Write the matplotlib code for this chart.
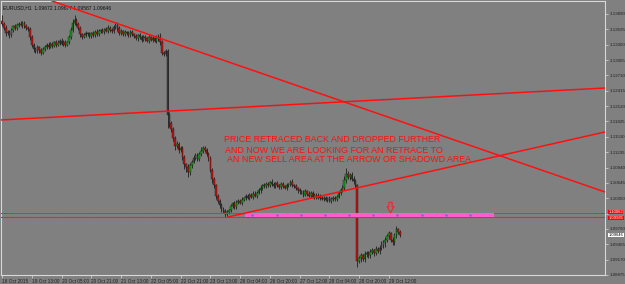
import matplotlib
matplotlib.use("Agg")
import matplotlib.pyplot as plt
import matplotlib.transforms as mtransforms
from matplotlib.path import Path
import numpy as np

# ---------------- data ----------------
closes = [
    1.1370, 1.1362, 1.1352, 1.1355, 1.1348,
    1.1358, 1.1365, 1.1362, 1.1368,
    1.1370, 1.1368, 1.1372, 1.1366, 1.1362, 1.1360,
    1.1345, 1.1330,
    1.1322, 1.1318, 1.1325, 1.1320, 1.1315, 1.1322,
    1.1325, 1.1330, 1.1326, 1.1332, 1.1328, 1.1335, 1.1330, 1.1334, 1.1338, 1.1332, 1.1336, 1.1330, 1.1335,
    1.1345, 1.1358,
    1.1372, 1.1378, 1.1370, 1.1362,
    1.1350, 1.1345, 1.1348, 1.1352,
    1.1350, 1.1346, 1.1352, 1.1348, 1.1355, 1.1350, 1.1356,
    1.1358, 1.1355, 1.1360, 1.1357, 1.1362, 1.1358, 1.1356, 1.1364,
    1.1368, 1.1362,
    1.1352, 1.1356, 1.1350, 1.1354, 1.1352, 1.1348, 1.1355, 1.1350,
    1.1346, 1.1342, 1.1348, 1.1344, 1.1340, 1.1345, 1.1342, 1.1338, 1.1344, 1.1340, 1.1342, 1.1338, 1.1343,
    1.1345, 1.1335,
    1.1315, 1.1312, 1.1318,
    1.1195, 1.1180, 1.1168,
    1.1150, 1.1135, 1.1140, 1.1128, 1.1132,
    1.1115, 1.1100, 1.1095, 1.1085, 1.1098, 1.1105,
    1.1112, 1.1118, 1.1110, 1.1120,
    1.1125, 1.1132, 1.1128, 1.1120, 1.1112,
    1.1090, 1.1072, 1.1060,
    1.1040, 1.1030, 1.1022, 1.1015, 1.1010,
    1.1005, 1.1008, 1.1012,
    1.1020, 1.1025, 1.1018, 1.1028, 1.1030, 1.1026, 1.1032,
    1.1035, 1.1040, 1.1036, 1.1042, 1.1038, 1.1044, 1.1040, 1.1046, 1.1050,
    1.1055, 1.1060, 1.1058, 1.1063, 1.1060, 1.1066, 1.1062, 1.1058, 1.1064, 1.1060, 1.1056, 1.1062, 1.1058, 1.1055, 1.1060,
    1.1062, 1.1066, 1.1060, 1.1058, 1.1054, 1.1050, 1.1048,
    1.1046, 1.1042, 1.1048, 1.1044, 1.1040, 1.1045, 1.1038, 1.1042, 1.1036, 1.1040, 1.1035,
    1.1034, 1.1036, 1.1032, 1.1035, 1.1030, 1.1033, 1.1036, 1.1034, 1.1038,
    1.1045, 1.1050, 1.1055,
    1.1070, 1.1082, 1.1075, 1.1080,
    1.1072, 1.1068, 1.1060,
    1.0915,
    1.0920, 1.0925, 1.0918, 1.0928, 1.0930, 1.0925, 1.0932,
    1.0935, 1.0930, 1.0938, 1.0934, 1.0940,
    1.0945, 1.0950, 1.0955,
    1.0962, 1.0968,
    1.0955, 1.0950,
    1.0965, 1.0975, 1.0970, 1.0965,
]
first_open = 1.1375

# upper / lower wick lengths in pips
wick_up = [
    12, 4, 5, 3, 4, 5, 3, 4, 3, 4,
    5, 3, 4, 3, 3, 4, 3, 4, 3, 5,
    3, 4, 3, 4, 3, 5, 3, 4, 3, 4,
    5, 3, 4, 3, 4, 3, 4, 6, 8, 9,
    4, 3, 4, 3, 4, 5, 3, 4, 3, 4,
    3, 5, 4, 3, 4, 3, 4, 5, 3, 4,
    3, 4, 5, 3, 4, 3, 4, 3, 4, 3,
    4, 3, 4, 3, 4, 5, 3, 4, 3, 4,
    3, 4, 3, 5, 6, 8, 4, 3, 4, 3,
    5, 4, 3, 4, 5, 3, 4, 3, 4, 3,
    5, 4, 3, 6, 4, 3, 4, 8, 3, 4,
    3, 4, 5, 3, 4, 3, 4, 3, 4, 3,
    4, 5, 3, 4, 3, 5, 4, 3, 4, 5,
    3, 4, 3, 4, 3, 5, 4, 3, 4, 5,
    3, 4, 3, 4, 3, 5, 4, 3, 4, 3,
    5, 4, 3, 4, 3, 4, 5, 3, 4, 3,
    4, 3, 4, 5, 3, 4, 3, 4, 3, 4,
    5, 3, 4, 3, 4, 3, 5, 4, 3, 4,
    3, 4, 5, 6, 8, 11, 5, 4, 6, 5,
    4, 3, 4, 5, 3, 6, 4, 3, 5, 4,
    3, 6, 4, 5, 7, 4, 6, 4, 5, 3,
    5, 4, 6, 3, 4,
]
wick_dn = [
    5, 4, 6, 3, 5, 4, 3, 4, 3, 4,
    3, 5, 3, 4, 3, 5, 4, 6, 4, 3,
    5, 4, 3, 4, 3, 4, 3, 5, 3, 4,
    3, 4, 3, 5, 4, 3, 3, 4, 3, 4,
    5, 4, 6, 4, 3, 4, 3, 4, 3, 4,
    3, 4, 3, 4, 3, 4, 3, 4, 3, 4,
    3, 4, 5, 4, 3, 4, 3, 4, 3, 4,
    3, 4, 3, 4, 3, 4, 3, 4, 3, 4,
    3, 4, 3, 4, 5, 6, 5, 4, 3, 25,
    8, 6, 5, 7, 4, 6, 5, 6, 8, 9,
    9, 5, 4, 3, 4, 3, 4, 3, 4, 5,
    4, 6, 5, 7, 5, 6, 4, 5, 6, 4,
    6, 4, 3, 4, 3, 4, 3, 4, 3, 4,
    3, 4, 3, 4, 3, 4, 3, 4, 3, 4,
    4, 3, 4, 3, 4, 3, 4, 3, 4, 3,
    3, 4, 3, 4, 3, 4, 3, 4, 3, 4,
    4, 3, 4, 3, 4, 3, 4, 3, 4, 3,
    3, 4, 3, 4, 3, 4, 3, 4, 3, 4,
    4, 3, 4, 3, 4, 5, 4, 5, 4, 6,
    6, 12, 5, 7, 4, 5, 6, 4, 5, 4,
    6, 4, 5, 6, 4, 5, 8, 4, 6, 4,
    5, 4, 6, 4, 5,
]

x_labels = ["16 Oct 2015", "19 Oct 13:00", "20 Oct 05:00", "20 Oct 21:00",
            "21 Oct 13:00", "22 Oct 05:00", "22 Oct 21:00", "23 Oct 13:00",
            "26 Oct 04:00", "26 Oct 20:00", "27 Oct 12:00", "28 Oct 04:00",
            "28 Oct 20:00", "29 Oct 12:00"]
x_label_step = 16  # bars between time labels

y_ticks = [1.13890, 1.13595, 1.13300, 1.13005, 1.12710, 1.12415, 1.12120,
           1.11825, 1.11530, 1.11235, 1.10940, 1.10645, 1.10350, 1.10055,
           1.09760, 1.09465, 1.09170, 1.08875]
hidden_tick = 1.10055   # covered by the line price boxes in the reference

# trendlines: (bar, price) endpoints
trend_down = [(26.9, 1.14140), (324.2, 1.10470)]
trend_flat = [(-1.1, 1.11853), (324.2, 1.12468)]
trend_up = [(121.5, 1.09990), (324.2, 1.11623)]
hline_top = 1.10062
hline_bot = 1.09985
zone = (130.6, 264.5)          # bar range of the shaded sell area
arrow_pos = (208.6, 1.10190)   # bar, price
last_price = 1.09646

header = "EURUSD,H1  1.09672 1.09677 1.09587 1.09646"
note = ["PRICE RETRACED BACK AND DROPPED FURTHER",
        "AND NOW WE ARE LOOKING FOR AN RETRACE TO",
        "AN NEW SELL AREA AT THE ARROW OR SHADOWD AREA"]
note_pos = [(119.5, 1.11488), (120.0, 1.11265), (121.0, 1.11090)]

# ---------------- figure ----------------
BG = "#808080"
W, H = 625, 284
fig = plt.figure(figsize=(W / 100, H / 100), dpi=100, facecolor=BG)
ax = fig.add_axes([1 / W, 9 / H, 604 / W, 274 / H], facecolor=BG)

pp = 0.00019214
ax.set_ylim(1.13890 - 261 * pp, 1.13890 + 13 * pp)
ax.set_xlim(-0.54, 324.2)

n = len(closes)
opens = [first_open] + closes[:-1]
pip = 0.0001
for i in range(n):
    o, c = opens[i], closes[i]
    hi = max(o, c) + wick_up[i] * pip
    lo = min(o, c) - wick_dn[i] * pip
    ax.vlines(i, lo, hi, color="#1e1e1e", lw=0.6, zorder=3)
    col = "#12a012" if c >= o else "#c81010"
    bot, top = min(o, c), max(o, c)
    ax.bar(i, max(top - bot, 0.6 * pp), bottom=bot, width=0.85,
           color=col, edgecolor="#1e1e1e", linewidth=0.3, zorder=4)

# grid (very faint)
for k in range(len(x_labels)):
    ax.axvline(k * x_label_step, color="#838383", lw=0.4, zorder=0)

# horizontal lines & zone
ax.axhline(hline_top + 0.4 * pp, color="#40b8b0", lw=0.8, zorder=5)
ax.axhline(hline_top, color="#ff2020", lw=0.7, zorder=5)
ax.axhline(hline_bot, color="#ff2020", lw=0.8, zorder=5)
ax.fill_between(zone, hline_bot, hline_top, color="#ff5ccd", zorder=5, lw=0)
dots_x = np.arange(zone[0] + 4, zone[1], 13)
ax.plot(dots_x, [(hline_bot + hline_top) / 2] * len(dots_x),
        ls="none", marker="s", ms=0.7, color="#6a6ad0", zorder=6)

# trendlines
for tl in (trend_down, trend_flat, trend_up):
    ax.plot([tl[0][0], tl[1][0]], [tl[0][1], tl[1][1]], color="#ff1010", lw=1.1, zorder=6)

# hollow down arrow marker
arrow_marker = Path([(-0.3, 1), (0.3, 1), (0.3, 0.15), (0.65, 0.15), (0, -1),
                     (-0.65, 0.15), (-0.3, 0.15), (-0.3, 1)],
                    [Path.MOVETO] + [Path.LINETO] * 6 + [Path.CLOSEPOLY])
ax.plot([arrow_pos[0]], [arrow_pos[1]], marker=arrow_marker, ms=7.5,
        mfc="none", mec="#ff2020", mew=0.8, ls="none", zorder=7)

# note text
for (bx, by), t in zip(note_pos, note):
    ax.text(bx, by, t, color="#ff1010", fontsize=6.4, family="Liberation Sans",
            ha="left", va="center", zorder=7)

# header
ax.text(0.004, 0.985, header, transform=ax.transAxes, fontsize=3.6, color="#101010",
        family="Liberation Sans", ha="left", va="top")

# axes styling
for s in ax.spines.values():
    s.set_color("#d8d8d8")
    s.set_linewidth(0.8)
ax.yaxis.tick_right()
ax.set_yticks(y_ticks)
ax.set_yticklabels(["" if v == hidden_tick else f"{v:.5f}" for v in y_ticks])
ax.tick_params(axis="y", which="both", length=2, width=0.5, color="#d8d8d8",
               labelsize=3.2, labelcolor="#202020", pad=1.0)
ax.set_xticks([k * x_label_step for k in range(len(x_labels))])
ax.set_xticklabels(x_labels)
ax.tick_params(axis="x", length=2, width=0.5, color="#d8d8d8",
               labelsize=3.4, labelcolor="#202020", pad=0.8)
for lab in ax.get_xticklabels():
    lab.set_ha("left")
    lab.set_family("Liberation Sans")
for lab in ax.get_yticklabels():
    lab.set_family("Liberation Sans")

# price boxes on the right (the two line labels are nudged apart slightly)
trans = mtransforms.blended_transform_factory(ax.transAxes, ax.transData)
for v, dy, fc, tc in ((hline_top, 1.0 * pp, "#ff0000", "white"),
                      (hline_bot, -1.0 * pp, "#ff0000", "white"),
                      (last_price, 0.0, "white", "black")):
    ax.text(1.006, v + dy, f"{v:.5f}", transform=trans, fontsize=3.0, color=tc,
            family="Liberation Sans", ha="left", va="center", clip_on=False,
            bbox=dict(boxstyle="square,pad=0.05", fc=fc, ec="none"), zorder=10)

fig.savefig("out.png", dpi=100, facecolor=BG)
